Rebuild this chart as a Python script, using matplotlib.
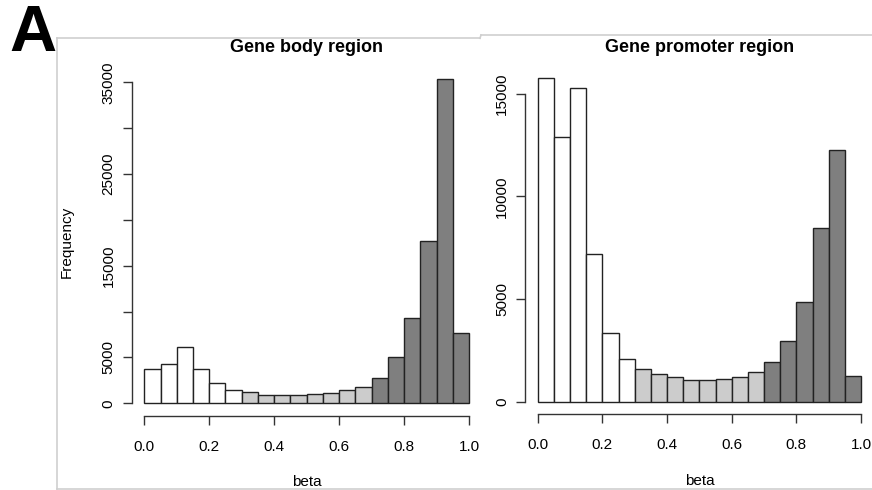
import numpy as np
import matplotlib
matplotlib.use("Agg")
import matplotlib.pyplot as plt
from matplotlib.lines import Line2D

plt.rcParams['font.family'] = ['Liberation Sans', 'DejaVu Sans']

# ---- data ----
bin_edges = np.round(np.arange(0, 1.0001, 0.05), 2)
body_counts = [3750, 4290, 6100, 3750, 2180, 1450, 1200, 950, 910, 910,
               1020, 1130, 1450, 1780, 2760, 5050, 9270, 17730, 35400, 7630]
promoter_counts = [15780, 12890, 15280, 7210, 3330, 2080, 1590, 1330, 1190, 1040,
                   1060, 1100, 1190, 1430, 1930, 2970, 4870, 8440, 12240, 1230]
body_yticks = [0, 5000, 10000, 15000, 20000, 25000, 30000, 35000]
body_ylabels = ["0", "5000", "", "15000", "", "25000", "", "35000"]
promoter_yticks = [0, 5000, 10000, 15000]
promoter_ylabels = ["0", "5000", "10000", "15000"]
xticks = [0.0, 0.2, 0.4, 0.6, 0.8, 1.0]
xticklabels = ["0.0", "0.2", "0.4", "0.6", "0.8", "1.0"]
low_cut, high_cut = 0.3, 0.7
col_low, col_mid, col_high = "#ffffff", "#cccccc", "#7f7f7f"

W, H = 872, 490
fig = plt.figure(figsize=(W / 100, H / 100), dpi=100)


def px_axes(x0, x1, y0px, ytop_px, ymax_data, ymax_shown):
    per = (y0px - ytop_px) / ymax_data
    top_px = y0px - per * ymax_shown
    ax = fig.add_axes([x0 / W, (H - y0px) / H, (x1 - x0) / W, (y0px - top_px) / H])
    ax.set_xlim(0, 1)
    ax.set_ylim(0, ymax_shown)
    return ax


def draw(ax, counts, yticks, ylabels, out_left, out_bot):
    lefts = bin_edges[:-1]
    colors = []
    for l in lefts:
        if l < low_cut - 1e-9:
            colors.append(col_low)
        elif l < high_cut - 1e-9:
            colors.append(col_mid)
        else:
            colors.append(col_high)
    ax.bar(lefts, counts, width=0.05, align='edge', color=colors,
           edgecolor="#222222", linewidth=1.0, clip_on=False)
    for s in ['top', 'right']:
        ax.spines[s].set_visible(False)
    ax.spines['left'].set_position(('outward', out_left))
    ax.spines['bottom'].set_position(('outward', out_bot))
    ax.spines['left'].set_bounds(yticks[0], yticks[-1])
    ax.spines['bottom'].set_bounds(0, 1)
    for s in ['left', 'bottom']:
        ax.spines[s].set_color("#333333")
        ax.spines[s].set_linewidth(1.0)
    ax.set_yticks(yticks)
    ax.set_yticklabels(ylabels, rotation=90, va='center', fontsize=11)
    ax.set_xticks(xticks)
    ax.set_xticklabels(xticklabels, fontsize=11)
    ax.tick_params(axis='both', length=6.5, width=1.0, color="#333333")
    ax.tick_params(axis='x', pad=10.5)
    ax.tick_params(axis='y', pad=5)
    ax.patch.set_visible(False)


axL = px_axes(144.3, 469.0, 403.3, 82.3, 35000, 36000)
draw(axL, body_counts, body_yticks, body_ylabels, 9.1, 9.1)
axR = px_axes(537.7, 861.0, 401.7, 93.7, 15000, 16000)
draw(axR, promoter_counts, promoter_yticks, promoter_ylabels, 9.1, 9.1)

for cx, cy, t in [(306.7, 48, "Gene body region"), (699.4, 47, "Gene promoter region")]:
    fig.text(cx / W, (H - cy) / H, t, ha='center', va='center', fontsize=13, fontweight='bold')

fig.text(67 / W, (H - 242) / H, "Frequency", rotation=90, ha='center', va='center', fontsize=11)
fig.text(306.7 / W, (H - 482) / H, "beta", ha='center', va='center', fontsize=11)
fig.text(699.4 / W, (H - 481) / H, "beta", ha='center', va='center', fontsize=11)

fig.text(9 / W, (H - 51) / H, "A", fontsize=47, fontweight='bold', ha='left', va='baseline')

gray = "#cfcfcf"
segs = [((56.5, 38.3), (480, 38.3)), ((480, 38.3), (481, 35)), ((481, 35), (872, 35)),
        ((56.5, 38.3), (56.5, 488.5)), ((56.5, 488.5), (872, 488.5))]
for (x0, y0), (x1, y1) in segs:
    fig.add_artist(Line2D([x0 / W, x1 / W], [(H - y0) / H, (H - y1) / H],
                          transform=fig.transFigure, color=gray, linewidth=1.2))

fig.savefig("out.png", dpi=100)
